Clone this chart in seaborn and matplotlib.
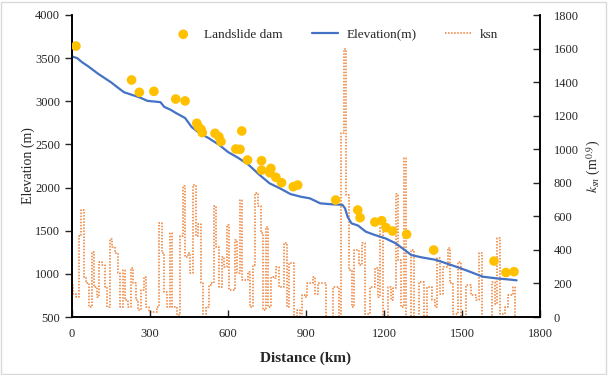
import matplotlib
matplotlib.use('Agg')
import matplotlib.pyplot as plt
import numpy as np
import pandas as pd
import seaborn as sns

# elevation profile along the river (km, m)
elev_km = [0, 20, 40, 60, 80, 100, 120, 150, 180, 200, 230, 260, 290, 340, 355, 380, 400, 435, 460, 490,
           525, 565, 600, 640, 680, 720, 760, 800, 840, 880, 915, 955, 1000, 1040, 1050, 1060, 1075, 1100,
           1130, 1165, 1205, 1245, 1280, 1305, 1345, 1400, 1455, 1490, 1530, 1580, 1640, 1680, 1710]
elev_m = [3520, 3500, 3450, 3410, 3365, 3320, 3280, 3220, 3150, 3105, 3075, 3045, 3005, 2990, 2935, 2900,
          2864, 2806, 2702, 2632, 2574, 2497, 2412, 2343, 2262, 2150, 2049, 1991, 1925, 1894, 1875, 1817,
          1806, 1800, 1760, 1662, 1585, 1560, 1489, 1450, 1412, 1354, 1276, 1218, 1191, 1162, 1106, 1070,
          1025, 967, 945, 935, 925]

# landslide dams (km, m)
dam_km = [15, 229, 259, 315, 399, 435, 480, 486, 496, 501, 550, 565, 573, 653, 630, 646, 675, 729, 729,
          765, 761, 784, 806, 851, 868, 1014, 1099, 1108, 1165, 1191, 1208, 1233, 1287, 1391, 1623, 1669, 1700]
dam_m = [3640, 3247, 3104, 3115, 3026, 3004, 2745, 2706, 2676, 2637, 2629, 2590, 2533, 2656, 2447, 2443,
         2319, 2311, 2203, 2222, 2172, 2119, 2057, 2010, 2029, 1856, 1740, 1651, 1600, 1616, 1535, 1496,
         1458, 1276, 1148, 1015, 1025]

# ksn every 10 km from 0 to 1710 km
ksn_vals = [190, 140, 120, 480, 640, 240, 200, 60, 390, 180,
            120, 330, 310, 180, 60, 465, 420, 380, 260, 60,
            280, 100, 60, 290, 200, 100, 40, 160, 240, 60,
            30, 30, 30, 60, 560, 380, 150, 60, 500, 60,
            60, 10, 480, 780, 360, 380, 260, 787, 480, 555,
            200, 0, 60, 190, 200, 660, 420, 180, 360, 300,
            550, 160, 160, 460, 260, 700, 220, 220, 270, 60,
            310, 740, 660, 500, 40, 538, 60, 240, 230, 300,
            180, 180, 440, 60, 320, 320, 0, 40, 0, 130,
            120, 200, 200, 240, 140, 200, 200, 200, 0, 0,
            0, 180, 180, 0, 1095, 1600, 730, 280, 60, 400,
            400, 310, 440, 20, 20, 180, 180, 290, 120, 535,
            0, 0, 180, 100, 175, 735, 340, 60, 946, 0,
            0, 400, 0, 0, 210, 210, 0, 180, 180, 100,
            60, 350, 140, 300, 300, 410, 200, 20, 20, 330,
            0, 0, 190, 190, 130, 130, 100, 380, 0, 0,
            0, 0, 210, 80, 470, 20, 20, 60, 130, 130,
            180, 0]
ksn_km = list(range(0, 10 * len(ksn_vals), 10))

elev = pd.DataFrame({'km': elev_km, 'm': elev_m})
dams = pd.DataFrame({'km': dam_km, 'm': dam_m})
ksn = pd.DataFrame({'km': ksn_km, 'ksn': ksn_vals})

sns.set_style('ticks')
plt.rcParams['font.family'] = ['Liberation Serif', 'DejaVu Serif']
plt.rcParams['mathtext.fontset'] = 'stix'

fig = plt.figure(figsize=(6.08, 3.75), dpi=100)
ax = fig.add_subplot(111)
fig.subplots_adjust(left=72 / 608, right=540 / 608, top=1 - 15 / 375, bottom=1 - 317 / 375)
ax2 = ax.twinx()

sns.lineplot(data=ksn, x='km', y='ksn', ax=ax2, color='#ED7D31', linestyle=(0, (1, 1)), linewidth=1.1,
             drawstyle='steps-mid', label='ksn', legend=False)
sns.lineplot(data=elev, x='km', y='m', ax=ax, color='#4472C4', linewidth=1.6,
             label='Elevation(m)', legend=False)
sns.scatterplot(data=dams, x='km', y='m', ax=ax, color='#FFC000', s=48, edgecolor='none',
                label='Landslide dam', legend=False, zorder=5)

ax.set_zorder(ax2.get_zorder() + 1)
ax.patch.set_visible(False)

ax.set_xlim(0, 1800)
ax.set_xticks(range(0, 1801, 300))
ax.set_ylim(500, 4000)
ax.set_yticks(range(500, 4001, 500))
ax2.set_ylim(0, 1800)
ax2.set_yticks(range(0, 1801, 200))

ax.set_xlabel('Distance (km)', fontsize=11, fontweight='bold', labelpad=8)
ax.set_ylabel('Elevation (m)', fontsize=10, labelpad=0)
ax2.set_ylabel(r'$k_{sn}$ (m$^{0.9}$)', fontsize=10, labelpad=4)

for a in (ax, ax2):
    for s in a.spines.values():
        s.set_color('black')
        s.set_linewidth(1.2)
    a.spines['top'].set_visible(False)
ax.tick_params(axis='y', direction='out', length=5, labelsize=9, width=1)
ax.tick_params(axis='x', direction='in', length=5, labelsize=9, width=1, pad=8)
ax2.tick_params(axis='y', direction='in', length=5, labelsize=9, width=1, pad=10)

h1, l1 = ax.get_legend_handles_labels()
h2, l2 = ax2.get_legend_handles_labels()
order = [l1.index('Landslide dam'), l1.index('Elevation(m)')]
ax.legend([h1[i] for i in order] + h2, [l1[i] for i in order] + l2, ncol=3, frameon=False,
          loc='center', bbox_to_anchor=(0.56, 0.935), fontsize=9.5, columnspacing=2.2,
          handlelength=2.0, handletextpad=0.6)

fig.patches.append(plt.Rectangle((0.002, 0.003), 0.995, 0.993, transform=fig.transFigure,
                                 fill=False, edgecolor='#D9D9D9', linewidth=1))

fig.savefig('out.png', dpi=100)
